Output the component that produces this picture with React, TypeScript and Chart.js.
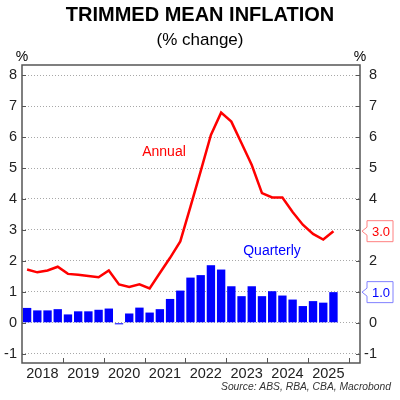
import React, { useEffect, useRef } from "react";
import { Chart, registerables } from "chart.js";

Chart.register(...registerables);

const years = ["2018", "2019", "2020", "2021", "2022", "2023", "2024", "2025"];
const quarterly = [
  0.48, 0.40, 0.40, 0.44, 0.27, 0.37, 0.37, 0.42, 0.46, -0.05, 0.30, 0.49,
  0.33, 0.44, 0.77, 1.04, 1.46, 1.54, 1.86, 1.72, 1.18, 0.86, 1.18, 0.86,
  1.02, 0.88, 0.75, 0.54, 0.70, 0.65, 0.99,
];
const annual = [
  1.72, 1.63, 1.69, 1.81, 1.58, 1.55, 1.51, 1.47, 1.69, 1.24, 1.16, 1.24,
  1.11, 1.61, 2.1, 2.63, 3.75, 4.9, 6.07, 6.79, 6.5, 5.8, 5.1, 4.19,
  4.05, 4.05, 3.58, 3.17, 2.87, 2.69, 2.96,
];
const yTicks = [-1, 0, 1, 2, 3, 4, 5, 6, 7, 8];

const FONT = "'Liberation Sans', Arial, sans-serif";
const RED = "#ff0000";
const BLUE = "#0000ff";

const overlay = {
  id: "overlay",
  afterDraw(chart: any) {
    const { ctx, chartArea: a, scales } = chart;
    const x = scales.x;
    const y = scales.y;
    ctx.save();
    // frame
    ctx.strokeStyle = "#555555";
    ctx.lineWidth = 1.5;
    ctx.strokeRect(a.left, a.top, a.right - a.left, a.bottom - a.top);
    // inner x ticks at year boundaries
    ctx.lineWidth = 1;
    for (let i = 1; i <= years.length; i++) {
      const px = Math.round(x.getPixelForValue(i * 4 - 0.5)) + 0.5;
      ctx.beginPath();
      ctx.moveTo(px, a.bottom);
      ctx.lineTo(px, a.bottom - 5);
      ctx.stroke();
    }
    // inner y ticks
    yTicks.forEach((v) => {
      const py = Math.round(y.getPixelForValue(v)) + 0.5;
      ctx.beginPath();
      ctx.moveTo(a.left, py);
      ctx.lineTo(a.left + 4, py);
      ctx.moveTo(a.right, py);
      ctx.lineTo(a.right - 4, py);
      ctx.stroke();
    });
    // titles
    ctx.fillStyle = "#000000";
    ctx.textAlign = "center";
    ctx.textBaseline = "middle";
    ctx.font = `bold 20px ${FONT}`;
    ctx.fillText("TRIMMED MEAN INFLATION", 200, 15);
    ctx.font = `17px ${FONT}`;
    ctx.fillText("(% change)", 200, 40);
    ctx.font = `14px ${FONT}`;
    ctx.fillText("%", a.left, 57);
    ctx.fillText("%", a.right, 57);
    // series labels
    ctx.fillStyle = RED;
    ctx.fillText("Annual", 164, 152);
    ctx.fillStyle = BLUE;
    ctx.fillText("Quarterly", 272, 251);
    // value boxes
    const box = (val: number, text: string, border: string, color: string) => {
      const py = y.getPixelForValue(val);
      const tip = a.right + 2;
      const l = tip + 5;
      const r = 393;
      const h = 10.5;
      ctx.beginPath();
      ctx.moveTo(tip, py);
      ctx.lineTo(l, py - 4);
      ctx.lineTo(l, py - h);
      ctx.lineTo(r, py - h);
      ctx.lineTo(r, py + h);
      ctx.lineTo(l, py + h);
      ctx.lineTo(l, py + 4);
      ctx.closePath();
      ctx.fillStyle = "#ffffff";
      ctx.fill();
      ctx.strokeStyle = border;
      ctx.lineWidth = 1;
      ctx.stroke();
      ctx.fillStyle = color;
      ctx.font = `13px ${FONT}`;
      ctx.textAlign = "center";
      ctx.fillText(text, (l + r) / 2 + 1, py + 1);
    };
    const lastA = annual[annual.length - 1];
    const lastQ = quarterly[quarterly.length - 1];
    box(lastA, lastA.toFixed(1), "#ff8080", RED);
    box(lastQ, lastQ.toFixed(1), "#8080ff", BLUE);
    // source
    ctx.fillStyle = "#333333";
    ctx.textAlign = "right";
    ctx.font = `italic 10.3px ${FONT}`;
    ctx.fillText("Source: ABS, RBA, CBA, Macrobond", 391, 387);
    ctx.restore();
  },
};

export default function App() {
  const ref = useRef<HTMLCanvasElement>(null);
  useEffect(() => {
    document.body.style.margin = "0";
    const chart = new Chart(ref.current as HTMLCanvasElement, {
      type: "bar",
      data: {
        datasets: [
          {
            type: "line",
            label: "Annual",
            data: annual.map((v, i) => ({ x: i, y: v })),
            borderColor: RED,
            borderWidth: 2.5,
            pointRadius: 0,
            tension: 0,
            order: 0,
          } as any,
          {
            type: "bar",
            label: "Quarterly",
            data: quarterly.map((v, i) => ({ x: i, y: v })),
            backgroundColor: BLUE,
            barPercentage: 0.82,
            categoryPercentage: 1,
            order: 1,
          } as any,
        ],
      },
      options: {
        animation: false,
        responsive: true,
        maintainAspectRatio: false,
        layout: { padding: { top: 65, left: 0, right: 23, bottom: 0 } },
        plugins: { legend: { display: false }, tooltip: { enabled: false } },
        scales: {
          x: {
            type: "linear",
            min: -0.5,
            max: 32.6,
            offset: false,
            afterBuildTicks: (s: any) => {
              s.ticks = years.map((_, i) => ({ value: i * 4 + 1.5 }));
            },
            afterFit: (s: any) => {
              s.height = 37;
            },
            ticks: {
              autoSkip: false,
              maxRotation: 0,
              padding: 2,
              color: "#222222",
              font: { family: FONT, size: 14.5 },
              callback: (v: any) => years[Math.round((Number(v) - 1.5) / 4)] ?? "",
            },
            grid: { display: false, drawTicks: false },
            border: { display: false },
          },
          y: {
            position: "left",
            min: -1.3,
            max: 8.33,
            afterBuildTicks: (s: any) => {
              s.ticks = yTicks.map((v) => ({ value: v }));
            },
            afterFit: (s: any) => {
              s.width = 22;
            },
            ticks: {
              padding: 5,
              color: "#222222",
              font: { family: FONT, size: 14.5 },
            },
            grid: { color: "#a8a8a8", lineWidth: 1, drawTicks: false },
            border: { display: false, dash: [1, 2] },
          },
          y2: {
            position: "right",
            min: -1.3,
            max: 8.33,
            afterBuildTicks: (s: any) => {
              s.ticks = yTicks.map((v) => ({ value: v }));
            },
            afterFit: (s: any) => {
              s.width = 17;
            },
            ticks: {
              padding: 4,
              crossAlign: "far",
              color: "#222222",
              font: { family: FONT, size: 14.5 },
            },
            grid: { display: false, drawTicks: false },
            border: { display: false },
          },
        },
      } as any,
      plugins: [overlay],
    });
    return () => chart.destroy();
  }, []);
  return (
    <div style={{ position: "fixed", left: 0, top: 0, width: 400, height: 400, background: "#fff" }}>
      <canvas ref={ref} />
    </div>
  );
}
